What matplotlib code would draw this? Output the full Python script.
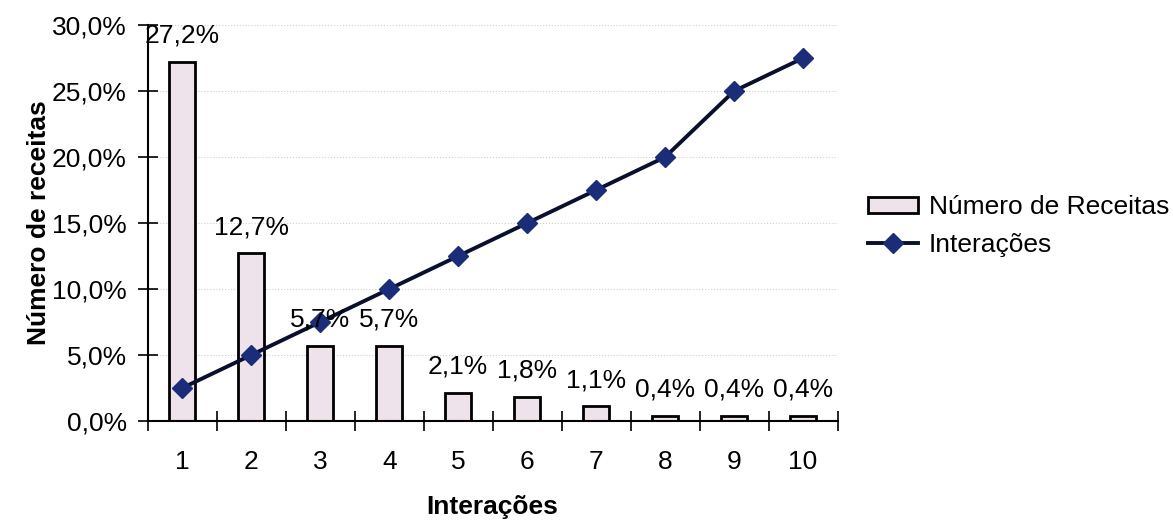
import numpy as np
import matplotlib.pyplot as plt
from matplotlib.ticker import MultipleLocator, FuncFormatter
from matplotlib.patches import Patch
from matplotlib.lines import Line2D

plt.rcParams['font.family'] = ['Liberation Sans', 'DejaVu Sans']

# Dados
iteracoes = [1, 2, 3, 4, 5, 6, 7, 8, 9, 10]
num_receitas = [27.2, 12.7, 5.7, 5.7, 2.1, 1.8, 1.1, 0.4, 0.4, 0.4]
interacoes = [2.5, 5.0, 7.5, 10.0, 12.5, 15.0, 17.5, 20.0, 25.0, 27.5]

bar_color = '#eee2eb'
line_color = '#0a0f2e'
marker_color = '#1b2d78'
fs = 19


def pct(v, pos=None):
    return f'{v:.1f}%'.replace('.', ',')


fig = plt.figure(figsize=(11.73, 5.23), dpi=100)
ax = fig.add_axes([0.126, 0.195, 0.588, 0.757])

x = np.array(iteracoes)
ax.bar(x, num_receitas, width=0.38, color=bar_color, edgecolor='black', linewidth=2, zorder=2)
ax.plot(x, interacoes, color=line_color, lw=2.8, marker='D', markersize=10.5,
        markerfacecolor=marker_color, markeredgecolor=marker_color, zorder=3)

for xi, v in zip(x, num_receitas):
    ax.annotate(pct(v), (xi, v), xytext=(0, 19), textcoords='offset points',
                ha='center', va='center', fontsize=fs, zorder=4)

ax.set_xlim(0.5, 10.5)
ax.set_ylim(0, 30)
ax.yaxis.set_major_locator(MultipleLocator(5))
ax.yaxis.set_major_formatter(FuncFormatter(pct))
ax.set_xticks(x)
ax.set_xticks(np.arange(0.5, 11, 1), minor=True)
ax.tick_params(axis='x', which='major', length=0, pad=21, labelsize=fs)
ax.tick_params(axis='x', which='minor', direction='inout', length=14, width=1.2)
ax.tick_params(axis='y', which='major', direction='inout', length=14, width=1.2,
               pad=8, labelsize=fs)

for s in ['top', 'right']:
    ax.spines[s].set_visible(False)
ax.spines['left'].set_linewidth(1.5)
ax.spines['bottom'].set_linewidth(1.5)

ax.grid(axis='y', linestyle=':', color='#d0d0d0', linewidth=0.8, zorder=0)

ax.set_xlabel('Interações', fontsize=fs, fontweight='bold', labelpad=15)
ax.set_ylabel('Número de receitas', fontsize=fs, fontweight='bold', labelpad=1)

handles = [
    Patch(facecolor=bar_color, edgecolor='black', linewidth=2),
    Line2D([], [], color=line_color, lw=2.8, marker='D', markersize=10.5,
           markerfacecolor=marker_color, markeredgecolor=marker_color),
]
fig.legend(handles, ['Número de Receitas', 'Interações'], loc='center left',
           bbox_to_anchor=(0.720, 0.568), frameon=False, fontsize=fs,
           handlelength=1.9, handleheight=0.55, handletextpad=0.4, labelspacing=0.5)

fig.savefig('out.png', dpi=100)
